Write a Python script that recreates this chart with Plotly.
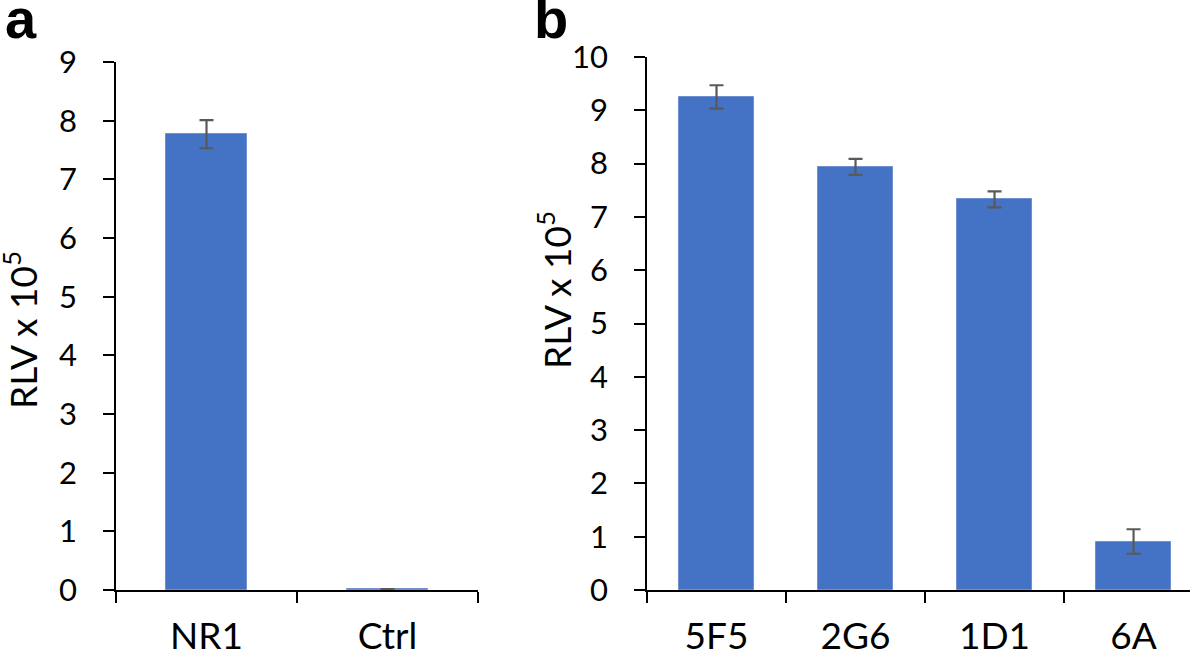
import plotly.graph_objects as go

# Data
cats_a = ["NR1", "Ctrl"]
vals_a = [7.77, 0.01]
err_a = [0.24, 0.005]

cats_b = ["5F5", "2G6", "1D1", "6A"]
vals_b = [9.25, 7.94, 7.33, 0.91]
err_b = [0.22, 0.15, 0.15, 0.23]

W, H = 1190, 653
BLUE = "#4472C4"
ERR = "#595959"
FONT = "Lato"

fig = go.Figure()
fig.add_trace(go.Bar(x=cats_a, y=vals_a, width=0.45, marker=dict(color=BLUE, line=dict(color="#6f8fd0", width=1)),
                     error_y=dict(type="data", array=err_a, color=ERR, thickness=2.2, width=7),
                     xaxis="x", yaxis="y", showlegend=False))
fig.add_trace(go.Bar(x=cats_b, y=vals_b, width=0.54, marker=dict(color=BLUE, line=dict(color="#6f8fd0", width=1)),
                     error_y=dict(type="data", array=err_b, color=ERR, thickness=2.2, width=7),
                     xaxis="x2", yaxis="y2", showlegend=False))

ax_common = dict(showline=True, linecolor="black", linewidth=1.5, ticks="outside", tickcolor="black",
                 tickwidth=1.5, ticklen=11, showgrid=False, zeroline=False, automargin=False)

fig.update_layout(
    template="none",
    width=W, height=H, margin=dict(l=0, r=0, t=0, b=0, pad=0),
    plot_bgcolor="white", paper_bgcolor="white",
    font=dict(family=FONT, color="black"),
    bargap=0,
    xaxis=dict(domain=[116 / W, 478 / W], range=[-0.5, 1.5], type="category", tickson="boundaries",
               tickfont=dict(size=37), anchor="y", ticklabelstandoff=13, **ax_common),
    yaxis=dict(domain=[63 / H, 591 / H], range=[0, 9], dtick=1, tickfont=dict(size=31), anchor="x",
               ticklabelstandoff=20, **ax_common),
    xaxis2=dict(domain=[647 / W, 1.0], range=[-0.5, 3.406], type="category", tickson="boundaries",
                tickfont=dict(size=37), anchor="y2", ticklabelstandoff=13, **ax_common),
    yaxis2=dict(domain=[63 / H, 596 / H], range=[0, 10], dtick=1, tickfont=dict(size=31), anchor="x2",
                ticklabelstandoff=20, **ax_common),
)

title = "RLV x 10<sup>5</sup>"
fig.add_annotation(text=title, textangle=-90, x=20 / W, y=1 - 330 / H, xref="paper", yref="paper",
                   showarrow=False, font=dict(size=37, family=FONT), xanchor="center", yanchor="middle")
fig.add_annotation(text=title, textangle=-90, x=554 / W, y=1 - 290 / H, xref="paper", yref="paper",
                   showarrow=False, font=dict(size=37, family=FONT), xanchor="center", yanchor="middle")

fig.add_annotation(text="<b>a</b>", x=3 / W, y=1 - 52 / H, xref="paper", yref="paper", showarrow=False,
                   font=dict(size=56, family="Liberation Sans"), xanchor="left", yanchor="bottom")
fig.add_annotation(text="<b>b</b>", x=532 / W, y=1 - 52 / H, xref="paper", yref="paper", showarrow=False,
                   font=dict(size=56, family="Liberation Sans"), xanchor="left", yanchor="bottom")

fig.write_html("out.html", config={"displayModeBar": False},
               post_script="document.body.style.margin='0';document.body.style.padding='0';")
